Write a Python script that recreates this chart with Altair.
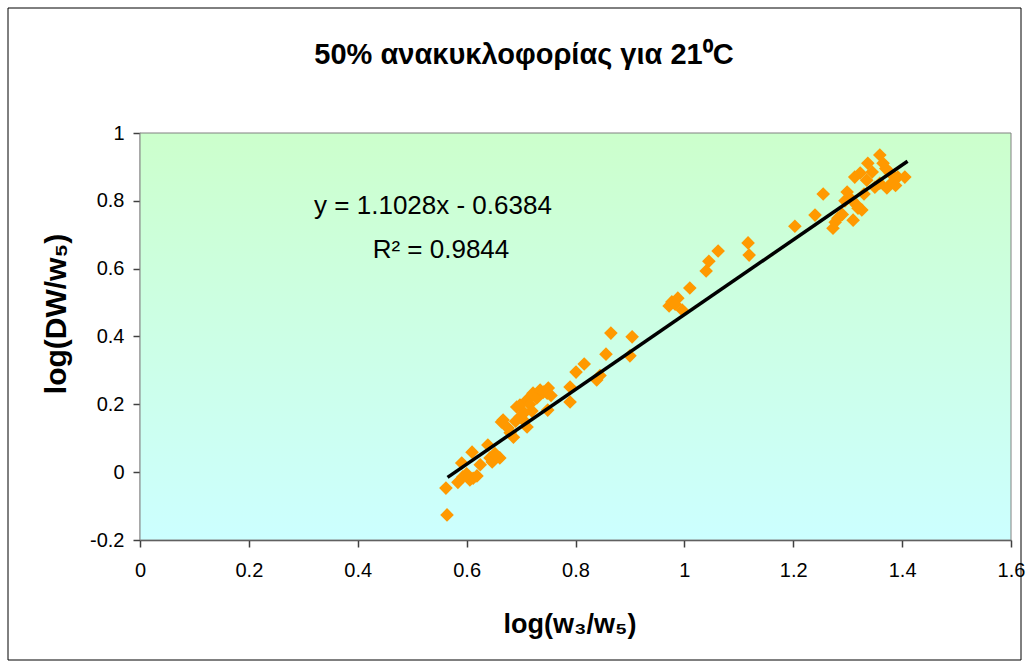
import altair as alt
import pandas as pd

# Measured points: log(w3/w5) against log(DW/w5)
x_vals = [
    0.564, 0.562, 0.584, 0.593, 0.606, 0.612, 0.619, 0.600, 0.591, 0.610,
    0.625, 0.639, 0.643, 0.647, 0.661, 0.652, 0.664, 0.667, 0.680, 0.686,
    0.692, 0.698, 0.698, 0.704, 0.711, 0.711, 0.716, 0.720, 0.722, 0.729,
    0.735, 0.741, 0.748, 0.750, 0.749, 0.755, 0.706, 0.690, 0.676, 0.790,
    0.790, 0.801, 0.816, 0.839, 0.845, 0.856, 0.865, 0.900, 0.904,
    0.972, 0.977, 0.988, 0.983, 0.996, 1.010, 1.040, 1.045, 1.062, 1.117,
    1.119,
    1.203, 1.240, 1.255, 1.273, 1.277, 1.282, 1.290, 1.299, 1.308, 1.310,
    1.317, 1.319, 1.326, 1.313, 1.323, 1.335, 1.337, 1.345, 1.350, 1.359,
    1.365, 1.359, 1.372, 1.378, 1.383, 1.392, 1.388, 1.405, 1.370, 1.330,
    1.295,
]
y_vals = [
    -0.126, -0.047, -0.030, -0.014, -0.023, -0.018, -0.011, -0.005, 0.027, 0.059,
    0.022, 0.080, 0.042, 0.030, 0.042, 0.055, 0.148, 0.154, 0.116, 0.103,
    0.192, 0.198, 0.163, 0.154, 0.133, 0.213, 0.200, 0.180, 0.233, 0.219,
    0.242, 0.236, 0.233, 0.248, 0.183, 0.226, 0.175, 0.150, 0.130, 0.251,
    0.207, 0.295, 0.319, 0.272, 0.285, 0.348, 0.410, 0.343, 0.399,
    0.490, 0.502, 0.513, 0.495, 0.478, 0.543, 0.593, 0.622, 0.652, 0.676,
    0.640,
    0.725, 0.758, 0.820, 0.719, 0.737, 0.749, 0.760, 0.826, 0.802, 0.743,
    0.787, 0.778, 0.773, 0.870, 0.882, 0.861, 0.911, 0.885, 0.840, 0.935,
    0.911, 0.852, 0.838, 0.882, 0.856, 0.870, 0.845, 0.870, 0.895, 0.820,
    0.800,
]

# Linear trendline as printed on the chart
slope = 1.1028
intercept = -0.6384
r_squared = 0.9844
trend_x = [0.565, 1.41]
trend_y = [slope * v + intercept for v in trend_x]

x_ticks = [0, 0.2, 0.4, 0.6, 0.8, 1.0, 1.2, 1.4, 1.6]
y_ticks = [-0.2, 0, 0.2, 0.4, 0.6, 0.8, 1.0]

W, H = 871, 407
FONT = "Liberation Sans"

points = pd.DataFrame({"x": x_vals, "y": y_vals})
trend = pd.DataFrame({"x": trend_x, "y": trend_y})
one = pd.DataFrame({"k": [0]})

x_scale = alt.Scale(domain=[0, 1.6], nice=False, zero=False)
y_scale = alt.Scale(domain=[-0.2, 1.0], nice=False, zero=False)

label_expr = "toString(round(datum.value*10)/10)"

backdrop = alt.Chart(one).mark_rect(
    color=alt.LinearGradient(
        gradient="linear",
        stops=[
            alt.GradientStop(color="#CCFFCC", offset=0),
            alt.GradientStop(color="#CCFFFF", offset=1),
        ],
        x1=0, x2=0, y1=0, y2=1,
    ),
    stroke="#808080",
    strokeWidth=1,
).encode(
    x=alt.value(0), x2=alt.value(W), y=alt.value(0), y2=alt.value(H)
)

frame = alt.Chart(one).mark_rect(
    fillOpacity=0, stroke="black", strokeWidth=1
).encode(
    x=alt.value(8 - 140), x2=alt.value(1021 - 140),
    y=alt.value(8 - 133), y2=alt.value(660 - 133),
)

scatter = alt.Chart(points).mark_point(
    shape="diamond", filled=True, color="#FF9900", opacity=1, size=185
).encode(
    x=alt.X("x:Q", scale=x_scale,
            axis=alt.Axis(values=x_ticks, labelExpr=label_expr, title=None)),
    y=alt.Y("y:Q", scale=y_scale,
            axis=alt.Axis(values=y_ticks, labelExpr=label_expr, title=None)),
)

trendline = alt.Chart(trend).mark_line(color="black", strokeWidth=3.5).encode(
    x=alt.X("x:Q", scale=x_scale), y=alt.Y("y:Q", scale=y_scale)
)

def label(text, x, y, size, bold=False, angle=None, baseline="alphabetic"):
    kw = dict(text=text, font=FONT, fontSize=size, color="black",
              align="center", baseline=baseline,
              fontWeight="bold" if bold else "normal")
    if angle is not None:
        kw["angle"] = angle
    return alt.Chart(one).mark_text(**kw).encode(x=alt.value(x), y=alt.value(y))

title = label("50% ανακυκλοφορίας για 21⁰C", 524 - 140, 64 - 133, 29, bold=True)
eq = label("y = 1.1028x - 0.6384", 433 - 140, 214 - 133, 26)
r2 = label(f"R² = {r_squared}", 441 - 140, 258 - 133, 26)
x_title = label("log(w₃/w₅)", 570 - 140, 625 - 133, 27, bold=True, baseline="middle")
y_title = label("log(DW/w₅)", 57 - 140, 314 - 133, 30, bold=True, angle=270,
                baseline="middle")

chart = alt.layer(
    frame, backdrop, scatter, trendline, title, eq, r2, x_title, y_title
).properties(
    width=W, height=H,
    autosize=alt.AutoSizeParams(type="none"),
    padding={"left": 140, "top": 133, "right": 18, "bottom": 128},
    background="white",
).configure_view(
    stroke=None
).configure_axis(
    grid=False,
    domainColor="#404040", domainWidth=1.5,
    tickColor="#404040", tickWidth=1.5, tickSize=7,
    labelFont=FONT, labelFontSize=20, labelColor="black",
    labelFlush=False,
    zindex=1,
).configure_axisX(
    labelPadding=13
).configure_axisY(
    labelPadding=9
)

chart.save("out.html", embed_options={"renderer": "svg", "actions": False})
